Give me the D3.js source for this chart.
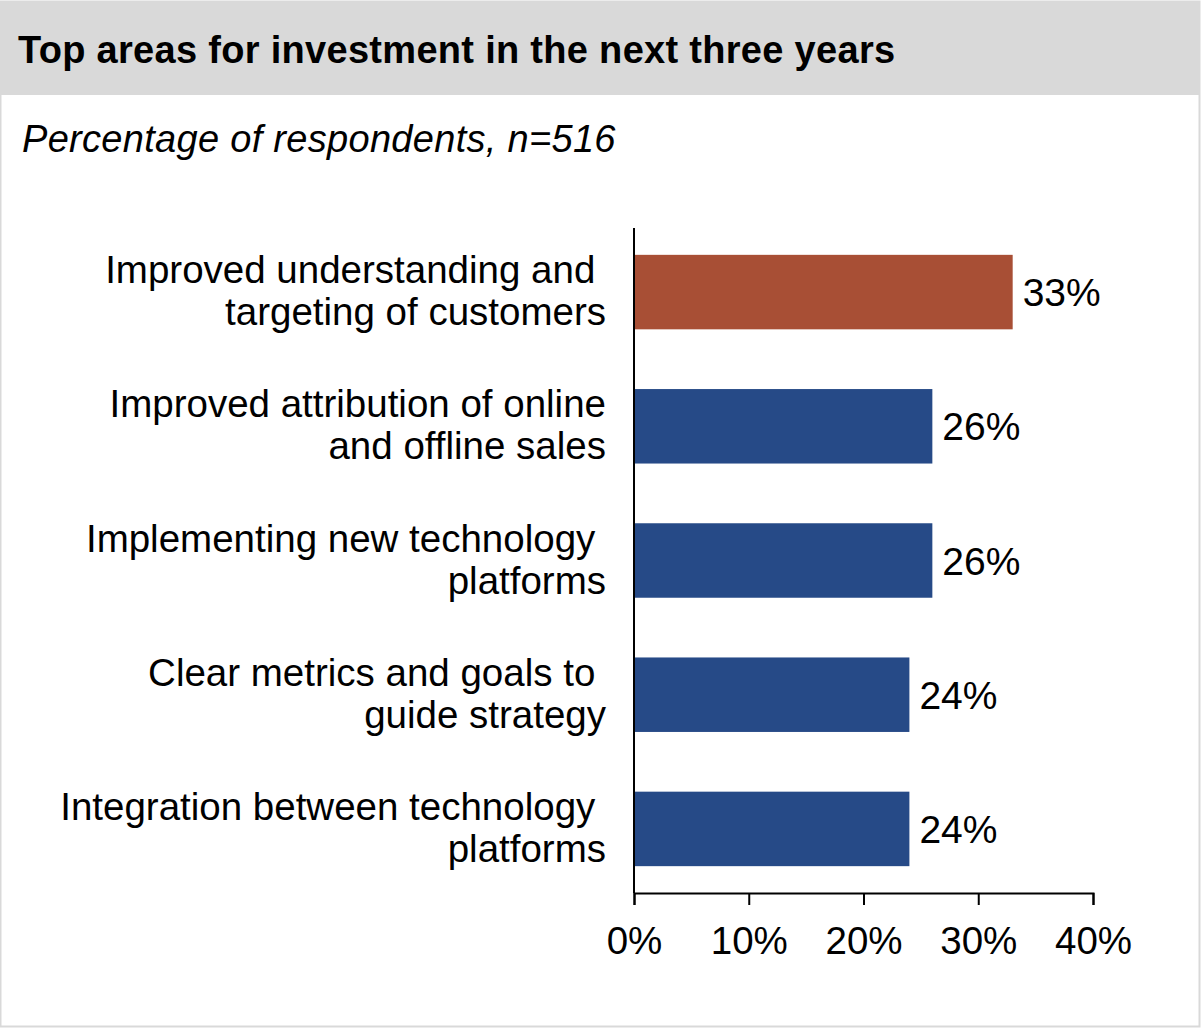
<!DOCTYPE html>
<html>
<head>
<meta charset="utf-8">
<script src="https://cdn.jsdelivr.net/npm/d3@7"></script>
<style>
  html, body { margin: 0; padding: 0; background: #fff; }
  svg { display: block; }
  text { font-family: "Liberation Sans", Arial, Helvetica, sans-serif; fill: #000; white-space: pre; }
</style>
</head>
<body>
<svg id="chart" width="1201" height="1028"></svg>
<script>
// Survey results: top areas for investment
const categories = [
  ["Improved understanding and ", "targeting of customers"],
  ["Improved attribution of online", "and offline sales"],
  ["Implementing new technology ", "platforms"],
  ["Clear metrics and goals to ", "guide strategy"],
  ["Integration between technology ", "platforms"]
];
const values = [33, 26, 26, 24, 24];
const highlight = [true, false, false, false, false];
const tickValues = [0, 10, 20, 30, 40];
const titleText = "Top areas for investment in the next three years";
const subtitleText = "Percentage of respondents, n=516";

const W = 1201, H = 1028;
const svg = d3.select("#chart");

// frame and header band
svg.append("rect").attr("x", 0.5).attr("y", 1.5).attr("width", W - 2).attr("height", H - 3)
  .attr("fill", "#fff").attr("stroke", "#d9d9d9").attr("stroke-width", 2);
svg.append("rect").attr("x", 0).attr("y", 2).attr("width", W - 1).attr("height", 93).attr("fill", "#d9d9d9");

svg.append("text").attr("x", 18).attr("y", 63)
  .style("font-size", "38px").style("font-weight", "bold").style("letter-spacing", "0.3px").text(titleText);
svg.append("text").attr("x", 22).attr("y", 152)
  .style("font-size", "38px").style("font-style", "italic").style("letter-spacing", "0.3px").text(subtitleText);

const margin = { left: 634, right: 1093, top: 228, bottom: 893 };
const x = d3.scaleLinear().domain([0, 40]).range([margin.left, margin.right]);
const y = d3.scaleBand().domain(d3.range(categories.length))
  .range([margin.top, margin.bottom]).paddingInner(0.445).paddingOuter(0.2);

// bars
svg.append("g").selectAll("rect").data(values).join("rect")
  .attr("x", x(0))
  .attr("y", (d, i) => y(i))
  .attr("width", d => x(d) - x(0))
  .attr("height", y.bandwidth())
  .attr("fill", (d, i) => highlight[i] ? "#a84f35" : "#264a87");

// value labels
svg.append("g").selectAll("text").data(values).join("text")
  .attr("x", d => x(d) + 10)
  .attr("y", (d, i) => y(i) + y.bandwidth() / 2 + 14)
  .style("font-size", "39px")
  .text(d => d + "%");

// category labels, two lines each
const lab = svg.append("g").selectAll("text").data(categories).join("text")
  .attr("text-anchor", "end")
  .style("font-size", "38.5px");
lab.each(function (lines, i) {
  const cy = y(i) + y.bandwidth() / 2;
  d3.select(this).selectAll("tspan").data(lines).join("tspan")
    .attr("x", 606)
    .attr("y", (l, j) => cy - 9 + j * 42)
    .text(l => l);
});

// x axis
const xAxis = svg.append("g").attr("transform", `translate(0,${margin.bottom})`)
  .call(d3.axisBottom(x).tickValues(tickValues).tickFormat(d => d + "%").tickSize(12).tickSizeOuter(12));
xAxis.select(".domain").attr("stroke", "#000").attr("stroke-width", 2);
xAxis.selectAll(".tick line").attr("stroke", "#000").attr("stroke-width", 2);
xAxis.selectAll(".tick text").attr("y", 0).attr("dy", "61px")
  .style("font-size", "38.5px").style("font-family", "'Liberation Sans', Arial, sans-serif").attr("fill", "#000");

// y axis line
svg.append("line").attr("x1", x(0)).attr("x2", x(0)).attr("y1", margin.top).attr("y2", margin.bottom)
  .attr("stroke", "#000").attr("stroke-width", 2);
</script>
</body>
</html>
